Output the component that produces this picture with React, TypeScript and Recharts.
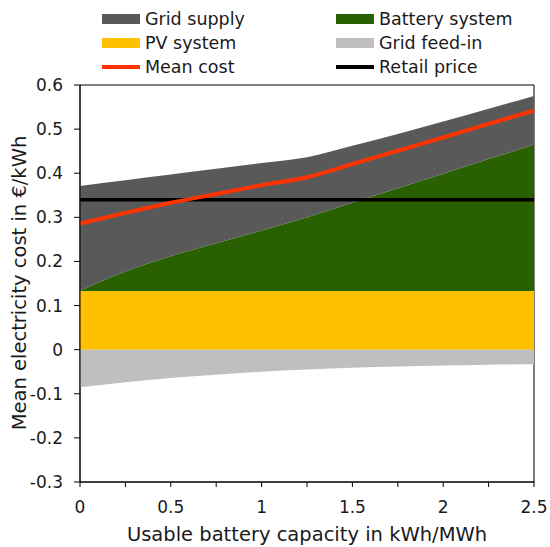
import { Area, ComposedChart, Line, ReferenceArea, XAxis, YAxis } from 'recharts'

// capacity steps (kWh/MWh) and the cost parts (€/kWh)
const CAPACITY = [0, 0.25, 0.5, 0.75, 1, 1.25, 1.5, 1.75, 2, 2.25, 2.5]
const PV_SYSTEM = [0.133, 0.133, 0.133, 0.133, 0.133, 0.133, 0.133, 0.133, 0.133, 0.133, 0.133]
const BATTERY_SYSTEM = [0, 0.044, 0.079, 0.108, 0.137, 0.167, 0.2, 0.233, 0.266, 0.299, 0.332]
const GRID_SUPPLY = [0.238, 0.207, 0.185, 0.169, 0.153, 0.136, 0.129, 0.123, 0.118, 0.114, 0.11]
const GRID_FEED_IN = [-0.085, -0.074, -0.064, -0.057, -0.05, -0.045, -0.041, -0.038, -0.036, -0.034, -0.033]
const MEAN_COST = [0.286, 0.31, 0.333, 0.353, 0.373, 0.391, 0.421, 0.451, 0.481, 0.512, 0.542]
const RETAIL_PRICE = [0.34, 0.34, 0.34, 0.34, 0.34, 0.34, 0.34, 0.34, 0.34, 0.34, 0.34]

const X_TICKS = [0, 0.25, 0.5, 0.75, 1, 1.25, 1.5, 1.75, 2, 2.25, 2.5]
const Y_TICKS = [-0.3, -0.2, -0.1, 0, 0.1, 0.2, 0.3, 0.4, 0.5, 0.6]

const FONT = '"DejaVu Sans", Verdana, sans-serif'

const COLORS = {
  grid: '#595959',
  battery: '#2a6100',
  pv: '#ffc000',
  feedIn: '#bfbfbf',
  mean: '#ff3300',
  retail: '#000000',
}

const rows = CAPACITY.map((x, i) => ({
  x,
  pv: PV_SYSTEM[i],
  battery: BATTERY_SYSTEM[i],
  grid: GRID_SUPPLY[i],
  feedIn: GRID_FEED_IN[i],
  mean: MEAN_COST[i],
  retail: RETAIL_PRICE[i],
}))

const LEGEND = [
  [
    { label: 'Grid supply', color: COLORS.grid, kind: 'box' },
    { label: 'Battery system', color: COLORS.battery, kind: 'box' },
  ],
  [
    { label: 'PV system', color: COLORS.pv, kind: 'box' },
    { label: 'Grid feed-in', color: COLORS.feedIn, kind: 'box' },
  ],
  [
    { label: 'Mean cost', color: COLORS.mean, kind: 'line' },
    { label: 'Retail price', color: COLORS.retail, kind: 'line' },
  ],
]

function LegendItem({ label, color, kind }: { label: string; color: string; kind: string }) {
  return (
    <div style={{ display: 'flex', alignItems: 'center', width: 234 }}>
      <span
        style={{
          display: 'inline-block',
          width: 38,
          height: kind === 'box' ? 10 : 4,
          background: color,
          marginRight: 5,
        }}
      />
      <span>{label}</span>
    </div>
  )
}

function XTick(props: any) {
  const { x, y, payload } = props
  const v = payload.value
  if (Math.abs(v * 2 - Math.round(v * 2)) > 1e-6) return null
  return (
    <text x={x} y={y} dy="0.71em" textAnchor="middle" fill="#1a1a1a" fontSize={17} fontFamily={FONT}>
      {String(v)}
    </text>
  )
}

function XTitle() {
  return (
    <text x={307} y={541} textAnchor="middle" fill="#1a1a1a" fontSize={19.5} fontFamily={FONT}>
      Usable battery capacity in kWh/MWh
    </text>
  )
}

function YTitle() {
  return (
    <text
      x={19}
      y={283}
      transform="rotate(-90 19 283)"
      textAnchor="middle"
      dominantBaseline="central"
      fill="#1a1a1a"
      fontSize={19.5}
      fontFamily={FONT}
    >
      Mean electricity cost in €/kWh
    </text>
  )
}

export default function App() {
  return (
    <div style={{ position: 'relative', width: 550, height: 547, fontFamily: FONT, background: '#fff' }}>
      <style>{'body{margin:0}'}</style>
      <div
        style={{
          position: 'absolute',
          left: 102,
          top: 7,
          fontSize: 17.5,
          lineHeight: '24px',
          color: '#1a1a1a',
        }}
      >
        {LEGEND.map((row, i) => (
          <div key={i} style={{ display: 'flex' }}>
            {row.map((item) => (
              <LegendItem key={item.label} {...item} />
            ))}
          </div>
        ))}
      </div>
      <ComposedChart
        width={550}
        height={547}
        data={rows}
        stackOffset="sign"
        margin={{ top: 85, right: 16, bottom: 0, left: 0 }}
      >
        <ReferenceArea x1={0} x2={2.5} y1={-0.3} y2={0.6} fill="none" stroke="#000" strokeWidth={1} />
        <XAxis
          dataKey="x"
          type="number"
          domain={[0, 2.5]}
          ticks={X_TICKS}
          interval={0}
          height={65}
          tick={<XTick />}
          tickSize={5}
          tickMargin={14}
          axisLine={{ stroke: '#000' }}
          tickLine={{ stroke: '#000' }}
          label={<XTitle />}
        />
        <YAxis
          type="number"
          domain={[-0.3, 0.6]}
          ticks={Y_TICKS}
          interval={0}
          width={80}
          tickSize={6}
          tickMargin={11}
          tickFormatter={(v: number) => String(Number(v.toFixed(1)))}
          tick={{ fill: '#1a1a1a', fontSize: 17, fontFamily: FONT }}
          axisLine={{ stroke: '#000' }}
          tickLine={{ stroke: '#000' }}
          label={<YTitle />}
        />
        <Area
          dataKey="pv"
          name="PV system"
          stackId="cost"
          type="monotone"
          fill={COLORS.pv}
          fillOpacity={1}
          stroke="none"
          isAnimationActive={false}
        />
        <Area
          dataKey="battery"
          name="Battery system"
          stackId="cost"
          type="monotone"
          fill={COLORS.battery}
          fillOpacity={1}
          stroke="none"
          isAnimationActive={false}
        />
        <Area
          dataKey="grid"
          name="Grid supply"
          stackId="cost"
          type="monotone"
          fill={COLORS.grid}
          fillOpacity={1}
          stroke="none"
          isAnimationActive={false}
        />
        <Area
          dataKey="feedIn"
          name="Grid feed-in"
          stackId="cost"
          type="monotone"
          fill={COLORS.feedIn}
          fillOpacity={1}
          stroke="none"
          isAnimationActive={false}
        />
        <Line
          dataKey="retail"
          name="Retail price"
          type="linear"
          stroke={COLORS.retail}
          strokeWidth={3.5}
          dot={false}
          isAnimationActive={false}
        />
        <Line
          dataKey="mean"
          name="Mean cost"
          type="monotone"
          stroke={COLORS.mean}
          strokeWidth={4}
          dot={false}
          isAnimationActive={false}
        />
      </ComposedChart>
    </div>
  )
}
